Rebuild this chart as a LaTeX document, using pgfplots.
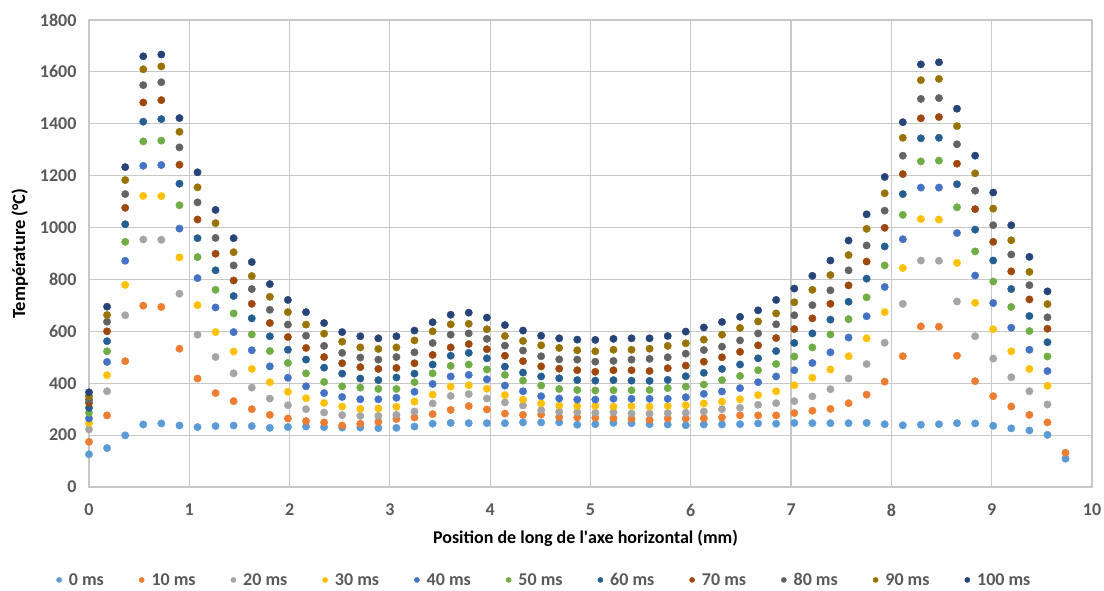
\documentclass[border=0pt]{standalone}
\usepackage{fontspec}
\setmainfont{Carlito}
\usepackage{pgfplots}
\usepackage{pgfplotstable}
\pgfplotsset{compat=1.18}
\definecolor{c0}{HTML}{5B9BD5}
\definecolor{c10}{HTML}{ED7D31}
\definecolor{c20}{HTML}{A5A5A5}
\definecolor{c30}{HTML}{FFC000}
\definecolor{c40}{HTML}{4472C4}
\definecolor{c50}{HTML}{70AD47}
\definecolor{c60}{HTML}{255E91}
\definecolor{c70}{HTML}{9E480E}
\definecolor{c80}{HTML}{636363}
\definecolor{c90}{HTML}{997300}
\definecolor{c100}{HTML}{264478}
\definecolor{gridc}{HTML}{C8C8C8}
\definecolor{tickc}{HTML}{595959}
\pgfplotstableread{
x s0 s10 s20 s30 s40 s50 s60 s70 s80 s90 s100
0 126 174 222 247 264 286 305 324 337 350 365
0.180 150 276 369 431 482 523 562 600 637 663 695
0.361 199 485 662 779 872 945 1013 1076 1129 1183 1233
0.541 241 699 954 1122 1238 1332 1408 1482 1549 1610 1660
0.721 245 694 953 1121 1241 1335 1418 1491 1560 1621 1667
0.902 237 533 745 885 996 1086 1169 1242 1309 1369 1422
1.082 231 418 587 701 805 886 959 1031 1097 1155 1213
1.262 235 362 501 597 692 760 835 899 960 1017 1068
1.442 237 331 438 522 597 669 736 796 854 905 959
1.623 235 300 383 455 527 588 650 706 763 813 867
1.803 228 278 341 404 465 524 581 632 683 733 782
1.983 231 264 315 367 421 478 529 578 626 674 721
2.164 233 254 300 342 388 438 491 536 583 626 674
2.344 231 249 287 324 362 405 460 501 544 591 632
2.524 229 237 277 310 347 388 437 477 517 560 597
2.705 229 244 274 301 338 383 418 462 499 538 581
2.885 227 251 274 303 338 378 412 455 491 532 573
3.065 228 262 278 309 344 378 422 459 501 538 581
3.245 233 268 291 329 367 404 437 477 519 565 603
3.426 244 281 322 356 397 438 472 509 555 600 635
3.606 247 297 351 387 426 467 506 538 587 627 664
3.786 246 312 358 392 432 472 517 551 592 629 672
3.967 246 299 341 379 415 453 496 531 571 608 653
4.147 246 283 326 354 391 432 464 506 545 582 624
4.327 249 278 314 337 369 410 441 485 526 563 603
4.508 249 279 296 322 350 391 426 465 504 546 583
4.688 249 269 290 314 341 378 419 456 492 536 573
4.868 240 268 288 312 337 374 412 450 491 527 568
5.048 242 267 286 312 337 372 410 444 483 523 567
5.229 247 265 288 310 340 373 412 450 486 529 571
5.409 246 263 283 312 340 373 410 450 491 529 573
5.589 242 259 283 310 340 374 409 447 494 533 573
5.770 241 264 285 312 340 381 413 458 500 544 582
5.950 238 264 286 315 346 387 427 468 514 554 599
6.130 241 265 291 322 359 395 440 483 528 568 615
6.311 241 268 300 329 368 412 455 500 541 587 636
6.491 242 276 305 338 381 428 472 521 565 613 656
6.671 245 276 317 354 404 450 496 546 592 638 681
6.851 244 276 323 369 426 474 524 574 627 669 721
7.032 247 285 331 392 450 503 555 609 662 712 765
7.212 246 294 349 421 478 538 592 650 701 760 814
7.392 246 301 377 453 519 588 645 706 758 817 873
7.573 246 323 418 504 576 647 714 777 835 894 950
7.753 247 356 474 573 658 731 803 869 931 995 1051
7.933 242 406 556 674 771 854 927 999 1065 1132 1195
8.114 238 504 706 844 955 1049 1129 1206 1277 1346 1406
8.294 240 619 873 1033 1154 1255 1344 1421 1496 1568 1629
8.474 242 618 872 1031 1154 1258 1346 1426 1499 1573 1637
8.654 246 506 715 864 979 1078 1167 1246 1321 1391 1458
8.835 245 408 581 710 815 908 992 1071 1142 1209 1277
9.015 236 350 495 608 709 792 873 945 1009 1073 1135
9.195 226 310 423 523 614 694 763 831 896 951 1009
9.376 218 278 369 455 529 601 659 723 778 829 887
9.556 201 249 318 390 447 503 558 610 654 705 754
9.736 109 132 nan nan nan nan nan nan nan nan nan
}\data
\begin{document}
\begin{tikzpicture}
\begin{axis}[
  scale only axis,
  width=1003pt, height=467pt,
  at={(0pt,0pt)}, anchor=south west,
  xmin=0, xmax=10, ymin=0, ymax=1800,
  xtick={0,1,...,10}, ytick={0,200,...,1800},
  grid=major,
  grid style={draw=gridc, line width=1.2pt},
  axis line style={draw=gridc, line width=1.2pt},
  major tick length=0pt,
  /pgf/number format/assume math mode=true,
  /pgf/number format/1000 sep={},
  tick label style={font=\fontsize{18}{21}\selectfont\bfseries, text=tickc},
  xticklabel style={anchor=center, yshift=-23pt},
  yticklabel style={anchor=east, xshift=-9pt},
  xlabel={Position de long de l\textquotesingle axe horizontal (mm)},
  ylabel={Température (°C)},
  every axis x label/.style={at={(axis description cs:0.495,-0.109)}, anchor=center,
    font=\fontsize{18}{21}\selectfont\bfseries, text=black},
  every axis y label/.style={at={(axis description cs:-0.069,0.5)}, rotate=90, anchor=center,
    font=\fontsize{18.5}{21}\selectfont\bfseries, text=black},
  legend columns=11,
  legend style={draw=none, fill=none, at={(axis description cs:0.454,-0.199)}, anchor=center,
    font=\fontsize{18}{21}\selectfont\bfseries, text=tickc,
    /tikz/every odd column/.append style={column sep=5pt},
    /tikz/every even column/.append style={column sep=33pt}},
  legend image code/.code={\fill[#1] (0.25em,0pt) circle (2.6pt);},
  every axis plot/.append style={only marks, mark=*, mark size=3.7pt},
]
\addplot[draw=c0, fill=c0] table[x=x,y=s0]{\data};
\addlegendentry{0 ms}
\addplot[draw=c10, fill=c10] table[x=x,y=s10]{\data};
\addlegendentry{10 ms}
\addplot[draw=c20, fill=c20] table[x=x,y=s20]{\data};
\addlegendentry{20 ms}
\addplot[draw=c30, fill=c30] table[x=x,y=s30]{\data};
\addlegendentry{30 ms}
\addplot[draw=c40, fill=c40] table[x=x,y=s40]{\data};
\addlegendentry{40 ms}
\addplot[draw=c50, fill=c50] table[x=x,y=s50]{\data};
\addlegendentry{50 ms}
\addplot[draw=c60, fill=c60] table[x=x,y=s60]{\data};
\addlegendentry{60 ms}
\addplot[draw=c70, fill=c70] table[x=x,y=s70]{\data};
\addlegendentry{70 ms}
\addplot[draw=c80, fill=c80] table[x=x,y=s80]{\data};
\addlegendentry{80 ms}
\addplot[draw=c90, fill=c90] table[x=x,y=s90]{\data};
\addlegendentry{90 ms}
\addplot[draw=c100, fill=c100] table[x=x,y=s100]{\data};
\addlegendentry{100 ms}
\end{axis}
\pgfresetboundingbox
\useasboundingbox (-89pt,-104pt) rectangle (1015pt,487pt);
\end{tikzpicture}
\end{document}
